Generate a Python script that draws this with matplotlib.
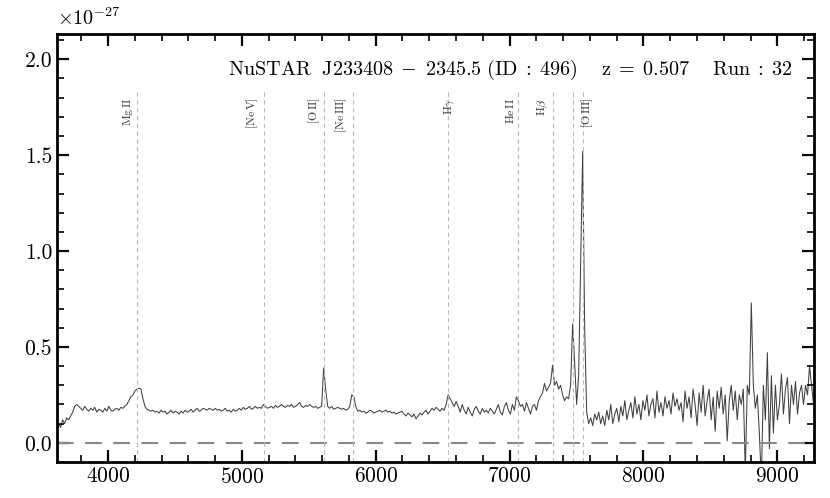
import numpy as np
import matplotlib
matplotlib.use("Agg")
import matplotlib.pyplot as plt
from matplotlib.ticker import MultipleLocator

plt.rcParams['font.family'] = 'serif'
plt.rcParams['font.serif'] = ['cmr10']
plt.rcParams['mathtext.fontset'] = 'cm'
plt.rcParams['axes.formatter.use_mathtext'] = True

# spectrum, sampled every 15 A starting at 3616 A (units of 1e-27)
wave_start = 3616
wave_step = 15
flux = [
    0.05, 0.10, 0.08, 0.12, 0.10, 0.13, 0.12, 0.14, 0.16, 0.19,     # 3616
    0.20, 0.19, 0.18, 0.17, 0.19, 0.175, 0.165, 0.18, 0.17, 0.185,  # 3766
    0.16, 0.175, 0.17, 0.16, 0.18, 0.165, 0.19, 0.17, 0.165, 0.175, # 3916
    0.18, 0.17, 0.185, 0.18, 0.19, 0.20, 0.22, 0.24, 0.25, 0.27,    # 4066
    0.28, 0.285, 0.28, 0.23, 0.19, 0.175, 0.17, 0.165, 0.17, 0.16,  # 4216
    0.165, 0.155, 0.17, 0.16, 0.165, 0.15, 0.16, 0.17, 0.155, 0.165,  # 4366
    0.16, 0.15, 0.165, 0.155, 0.17, 0.16, 0.165, 0.175, 0.16, 0.17,   # 4516
    0.18, 0.165, 0.17, 0.18, 0.175, 0.17, 0.18, 0.175, 0.17, 0.18,    # 4666
    0.17, 0.175, 0.165, 0.17, 0.18, 0.165, 0.17, 0.16, 0.175, 0.165,  # 4816
    0.17, 0.18, 0.17, 0.185, 0.175, 0.18, 0.19, 0.175, 0.18, 0.19,    # 4966
    0.18, 0.185, 0.18, 0.20, 0.19, 0.18, 0.185, 0.19, 0.18, 0.195,    # 5116
    0.185, 0.19, 0.20, 0.19, 0.185, 0.195, 0.19, 0.20, 0.185, 0.19,   # 5266
    0.20, 0.21, 0.19, 0.185, 0.195, 0.19, 0.20, 0.19, 0.185, 0.19,    # 5416
    0.18, 0.185, 0.19, 0.39, 0.28, 0.19, 0.18, 0.19, 0.175, 0.18,     # 5566
    0.185, 0.18, 0.175, 0.18, 0.17, 0.175, 0.19, 0.25, 0.24, 0.19,    # 5716
    0.165, 0.17, 0.16, 0.165, 0.155, 0.16, 0.17, 0.165, 0.155, 0.16,  # 5866
    0.165, 0.17, 0.16, 0.165, 0.17, 0.16, 0.165, 0.155, 0.16, 0.15,   # 6016
    0.155, 0.16, 0.165, 0.15, 0.14, 0.155, 0.145, 0.135, 0.15, 0.125, # 6166
    0.14, 0.155, 0.145, 0.16, 0.17, 0.15, 0.165, 0.18, 0.17, 0.185,   # 6316
    0.175, 0.165, 0.18, 0.17, 0.20, 0.25, 0.23, 0.21, 0.19, 0.215,    # 6466
    0.19, 0.16, 0.20, 0.17, 0.15, 0.185, 0.16, 0.14, 0.175, 0.19,     # 6616
    0.165, 0.15, 0.18, 0.16, 0.17, 0.155, 0.18, 0.165, 0.15, 0.175,   # 6766
    0.20, 0.16, 0.145, 0.19, 0.21, 0.17, 0.15, 0.20, 0.17, 0.24,      # 6916
    0.22, 0.19, 0.20, 0.165, 0.21, 0.18, 0.15, 0.19, 0.20, 0.17,      # 7066
    0.22, 0.24, 0.26, 0.31, 0.27, 0.29, 0.31, 0.405, 0.30, 0.32,      # 7216
    0.28, 0.30, 0.25, 0.22, 0.24, 0.23, 0.30, 0.62, 0.42, 0.20,       # 7366
    0.35, 0.95, 1.52, 0.60, 0.16, 0.10, 0.13, 0.09, 0.15, 0.12,       # 7516
    0.16, 0.10, 0.14, 0.09, 0.17, 0.12, 0.20, 0.10, 0.15, 0.18,       # 7666
    0.11, 0.19, 0.14, 0.22, 0.12, 0.17, 0.21, 0.13, 0.24, 0.15,       # 7816
    0.20, 0.12, 0.22, 0.17, 0.25, 0.14, 0.20, 0.23, 0.13, 0.27,       # 7966
    0.16, 0.21, 0.14, 0.24, 0.18, 0.22, 0.15, 0.26, 0.19, 0.23,       # 8116
    0.17, 0.21, 0.11, 0.27, 0.18, 0.24, 0.13, 0.28, 0.20, 0.09,       # 8266
    0.26, 0.16, 0.30, 0.14, 0.22, 0.28, 0.12, 0.24, 0.06, 0.27,       # 8416
    0.18, 0.29, 0.15, 0.25, 0.01, 0.22, 0.30, 0.17, 0.27, 0.12,       # 8566
    0.25, 0.20, 0.28, -0.15, 0.30, 0.25, 0.73, 0.30, 0.18, 0.25,      # 8716
    0.05, -0.20, 0.30, 0.12, 0.47, -0.03, 0.35, 0.05, 0.30, 0.12,     # 8866
    0.20, 0.36, 0.15, 0.28, 0.34, 0.10, 0.30, 0.20, 0.32, 0.15,       # 9016
    0.26, 0.30, 0.20, 0.30, 0.25, 0.40, 0.30, 0.20,                   # 9166
]

# emission lines (rest frame, A) and their labels
z = 0.507
line_rest = [2798, 3426, 3727, 3869, 4341, 4686, 4861, 4959, 5007]
line_names = [r'$\rm Mg\,II$', r'$\rm [Ne\,V]$', r'$\rm [O\,II]$', r'$\rm [Ne\,III]$',
              r'$\rm H\gamma$', r'$\rm He\,II$', r'$\rm H\beta$', '', r'$\rm [O\,III]$']
label_shift = [-68, -88, -72, -85, 8, -62, -80, 0, 38]

title = (r'$\rm NuSTAR\ \ J233408\;-\;2345.5\ (ID\;:\;496)\quad\ '
         r'z\;=\;0.507\quad\ Run\;:\;32$')

wave = wave_start + wave_step * np.arange(len(flux))

fig = plt.figure(figsize=(8.3, 4.98), dpi=100)
ax = fig.add_axes([0.0687, 0.0723, 0.9123, 0.8594])

ax.plot(wave, flux, color='k', lw=0.75, alpha=0.75)
ax.axhline(0, color='#888888', lw=1.5, dashes=(8, 5.5))

for rest, name, dx in zip(line_rest, line_names, label_shift):
    obs = rest * (1 + z)
    ax.axvline(obs, ymin=0, ymax=0.871, color='#bbbbbb', lw=0.8, ls=(0, (4, 3)))
    if name:
        ax.text(obs + dx, 1.80, name, rotation=90, ha='center', va='top',
                fontsize=8.5, color='#333333')

ax.text(0.972, 0.916, title, transform=ax.transAxes, ha='right', va='center',
        fontsize=14.5)
# scale factor shown like the axis offset text
ax.text(0.0, 1.012, r'$\times10^{-27}$', transform=ax.transAxes, ha='left',
        va='bottom', fontsize=14.5)

ax.set_xlim(3619, 9276)
ax.set_ylim(-0.1, 2.132)
ax.xaxis.set_major_locator(MultipleLocator(1000))
ax.xaxis.set_minor_locator(MultipleLocator(200))
ax.yaxis.set_major_locator(MultipleLocator(0.5))
ax.yaxis.set_minor_locator(MultipleLocator(0.1))
ax.yaxis.set_major_formatter(plt.FuncFormatter(lambda v, p: '%.1f' % v))
ax.tick_params(which='both', direction='in', top=True, right=True, labelsize=15.5)
ax.tick_params(which='major', length=8.5, width=1.6)
ax.tick_params(which='minor', length=5, width=1.2)
for s in ax.spines.values():
    s.set_linewidth(2)

fig.savefig('out.png', dpi=100)
